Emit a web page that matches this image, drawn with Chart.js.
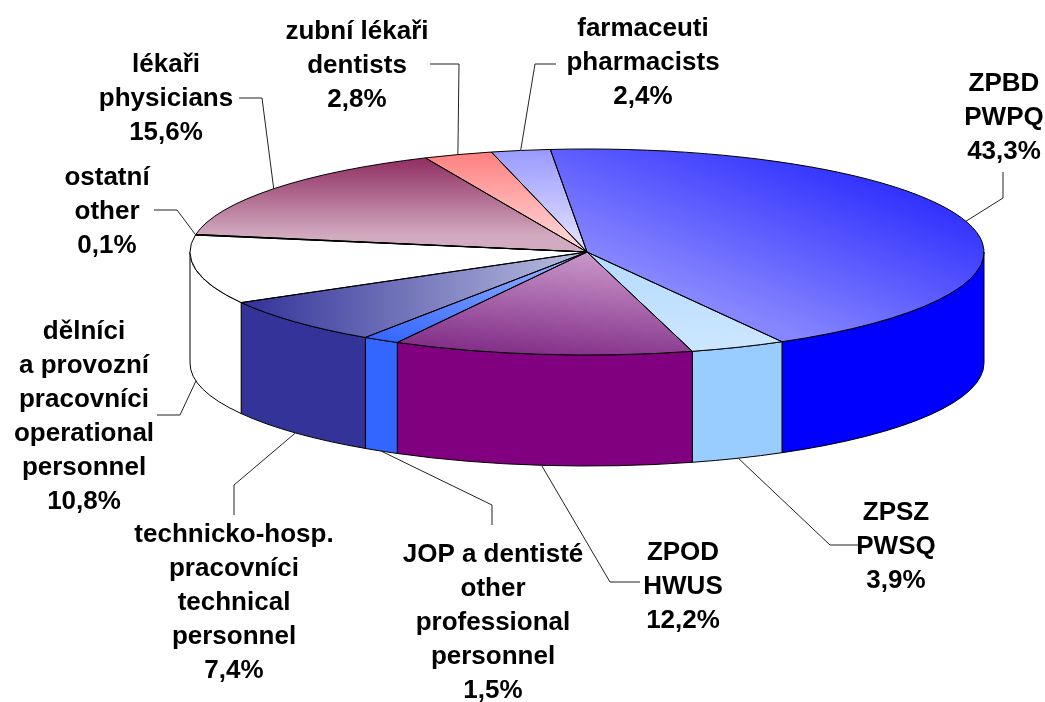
<!DOCTYPE html>
<html>
<head>
<meta charset="utf-8">
<style>
  html, body { margin: 0; padding: 0; background: #fff; }
  canvas { display: block; }
</style>
</head>
<body>
<canvas id="pieCanvas" width="1045" height="702"></canvas>
<script src="https://cdn.jsdelivr.net/npm/chart.js@4/dist/chart.umd.min.js"></script>
<script>
const categories = ['ZPBD', 'ZPSZ', 'ZPOD', 'JOP', 'technicko-hosp.', 'dělníci', 'ostatní', 'lékaři', 'zubní lékaři', 'farmaceuti'];
const shares = [43.3, 3.9, 12.2, 1.5, 7.4, 10.8, 0.1, 15.6, 2.8, 2.4];
const labelLines = [
    ['ZPBD', 'PWPQ'],
    ['ZPSZ', 'PWSQ'],
    ['ZPOD', 'HWUS'],
    ['JOP a dentisté', 'other', 'professional', 'personnel'],
    ['technicko-hosp.', 'pracovníci', 'technical', 'personnel'],
    ['dělníci', 'a provozní', 'pracovníci', 'operational', 'personnel'],
    ['ostatní', 'other'],
    ['lékaři', 'physicians'],
    ['zubní lékaři', 'dentists'],
    ['farmaceuti', 'pharmacists']
];

// pie geometry on the page
const pieRadius = 397;
const squash = 103 / 397;
const depth = 111;

const wallColors = ['#0000FF', '#99CCFF', '#800080', '#3366FF', '#333399', '#FFFFFF', '#000000', '#993366', '#FF8080', '#9999FF'];

// top face gradients, given in units of the pie radius before squashing
const topFills = [
    { from: [0, 0], to: [0.85, -0.55], c0: '#8686FF', c1: '#3030FF' },
    { from: [0, 0], to: [0.3, 0.95], c0: '#B4DAFF', c1: '#CCE6FF' },
    { from: [0.05, 0], to: [-0.3, 1], c0: '#CC9ACC', c1: '#7F2A85' },
    { from: [0, 0], to: [-0.55, 0.85], c0: '#9DB8FF', c1: '#3366FF' },
    { from: [-0.86, 0], to: [-0.05, 0], c0: '#333399', c1: '#B4B8DC' },
    { from: [0, 0], to: [1, 0], c0: '#FFFFFF', c1: '#FFFFFF' },
    { from: [0, 0], to: [1, 0], c0: '#000000', c1: '#000000' },
    { from: [0, -0.88], to: [0, -0.15], c0: '#933366', c1: '#D2ABC0' },
    { from: [0, -0.98], to: [0, -0.1], c0: '#FF7F7F', c1: '#FFD4D4' },
    { from: [0, -1], to: [0, -0.08], c0: '#9999FF', c1: '#E0E0FF' }
];

// label block: centre x, first line y; elbow: leader line from the text to the slice
const labelSpots = [
    { x: 1004, y: 84, leader: [[1003, 172], [1003, 198]] },
    { x: 896, y: 513, leader: [[858, 545], [830, 545]] },
    { x: 683, y: 553, leader: [[640, 582], [610, 582]] },
    { x: 493, y: 555, leader: [[492, 525], [492, 505]] },
    { x: 234, y: 535, leader: [[234, 515], [234, 485]] },
    { x: 84, y: 332, leader: [[157, 415], [180, 415]] },
    { x: 107, y: 178, leader: [[154, 210], [177, 210]] },
    { x: 166, y: 65, leader: [[239, 98], [262, 98]] },
    { x: 357, y: 32, leader: [[430, 64], [459, 64]] },
    { x: 643, y: 29, leader: [[556, 64], [535, 64]] }
];
const lineGap = 34;
const labelFont = 'bold 26px "Liberation Sans", Arial, sans-serif';

function topFill(context) {
    const fill = topFills[context.dataIndex];
    if (!fill || !context.chart.chartArea) return '#FFFFFF';
    const area = context.chart.chartArea;
    const cx = (area.left + area.right) / 2;
    const cy = (area.top + area.bottom) / 2;
    const g = context.chart.ctx.createLinearGradient(
        cx + fill.from[0] * pieRadius, cy + fill.from[1] * pieRadius,
        cx + fill.to[0] * pieRadius, cy + fill.to[1] * pieRadius
    );
    g.addColorStop(0, fill.c0);
    g.addColorStop(1, fill.c1);
    return g;
}

function arcProps(arc) {
    return arc.getProps(['x', 'y', 'startAngle', 'endAngle', 'outerRadius'], true);
}

const pie3d = {
    id: 'pie3d',
    beforeDatasetsDraw(chart) {
        const ctx = chart.ctx;
        // side walls, only the part of each slice facing the viewer
        chart.getDatasetMeta(0).data.forEach((arc, i) => {
            const p = arcProps(arc);
            const ry = p.outerRadius * squash;
            [0, Math.PI * 2].forEach(turn => {
                const a = Math.max(p.startAngle, turn);
                const b = Math.min(p.endAngle, turn + Math.PI);
                if (a >= b) return;
                ctx.beginPath();
                ctx.ellipse(p.x, p.y, p.outerRadius, ry, 0, a, b);
                ctx.ellipse(p.x, p.y + depth, p.outerRadius, ry, 0, b, a, true);
                ctx.closePath();
                ctx.fillStyle = wallColors[i];
                ctx.fill();
                ctx.strokeStyle = '#000';
                ctx.lineWidth = 1;
                ctx.stroke();
            });
        });
        // the library draws the slices, flattened
        const first = arcProps(chart.getDatasetMeta(0).data[0]);
        ctx.save();
        ctx.translate(first.x, first.y);
        ctx.scale(1, squash);
        ctx.translate(-first.x, -first.y);
    },
    afterDatasetsDraw(chart) {
        const ctx = chart.ctx;
        ctx.restore();
        const arcs = chart.getDatasetMeta(0).data;

        // slice outlines stay 1px, so they are stroked without the flattening
        arcs.forEach(arc => {
            const p = arcProps(arc);
            ctx.beginPath();
            ctx.moveTo(p.x, p.y);
            ctx.ellipse(p.x, p.y, p.outerRadius, p.outerRadius * squash, 0, p.startAngle, p.endAngle);
            ctx.closePath();
            ctx.strokeStyle = '#000';
            ctx.lineWidth = 1;
            ctx.stroke();
        });

        // leader lines end on the rim at the middle of the slice
        arcs.forEach((arc, i) => {
            const p = arcProps(arc);
            const mid = (p.startAngle + p.endAngle) / 2;
            const ax = p.x + Math.cos(mid) * p.outerRadius;
            let ay = p.y + Math.sin(mid) * p.outerRadius * squash;
            if (Math.sin(mid) > 0) ay += depth;
            ctx.beginPath();
            labelSpots[i].leader.forEach((pt, n) => {
                if (n === 0) ctx.moveTo(pt[0], pt[1]);
                else ctx.lineTo(pt[0], pt[1]);
            });
            ctx.lineTo(ax, ay);
            ctx.strokeStyle = '#222';
            ctx.lineWidth = 1;
            ctx.stroke();
        });

        // labels
        ctx.font = labelFont;
        ctx.fillStyle = '#000';
        ctx.textAlign = 'center';
        ctx.textBaseline = 'middle';
        shares.forEach((v, i) => {
            const lines = labelLines[i].concat(v.toFixed(1).replace('.', ',') + '%');
            lines.forEach((text, n) => {
                ctx.fillText(text, labelSpots[i].x, labelSpots[i].y + n * lineGap);
            });
        });
    }
};

new Chart(document.getElementById('pieCanvas').getContext('2d'), {
    type: 'pie',
    data: {
        labels: categories,
        datasets: [{
            data: shares,
            backgroundColor: topFill,
            borderWidth: 0,
            clip: false
        }]
    },
    options: {
        responsive: false,
        animation: false,
        rotation: -5.3,
        radius: pieRadius,
        layout: { padding: { left: 129, bottom: 198 } },
        plugins: {
            legend: { display: false },
            tooltip: { enabled: false }
        }
    },
    plugins: [pie3d]
});
</script>
</body>
</html>
